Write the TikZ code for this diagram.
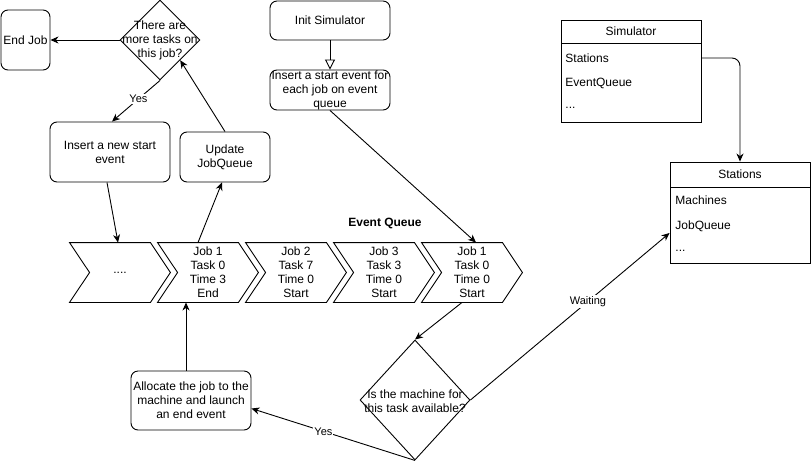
\documentclass[tikz,border=0pt]{standalone}
\usepackage{fontspec}
\setmainfont{Liberation Sans}
\usetikzlibrary{shapes.geometric,arrows.meta}

\begin{document}
\begin{tikzpicture}[x=1pt,y=-1pt,line width=0.9pt,font=\fontsize{12}{14}\selectfont,
    box/.style={draw, rounded corners=7pt, align=center, inner sep=0pt},
    decision/.style={draw, diamond, inner sep=0pt},
    txt/.style={align=center, inner sep=0pt},
    event/.style={minimum width=100pt, minimum height=59pt, inner sep=0pt, align=center},
    classbox/.style={draw, minimum width=140pt, inner sep=0pt},
    field/.style={anchor=west, inner sep=0pt},
    arr/.style={-{Stealth[length=8pt,width=7pt,inset=2.5pt]}},
    lbl/.style={fill=white, inner sep=1pt, font=\fontsize{11}{13}\selectfont}]

\useasboundingbox (0,0) rectangle (811,469);

% job loop
\node[box, minimum width=49pt, minimum height=60pt] (endjob) at (25.5,40) {End Job};
\node[decision, minimum width=80pt, minimum height=80pt] (more) at (160,40) {};
\node[txt] (moretext) at (160,40) {There are\\more tasks on\\this job?};
\node[box, minimum width=120pt, minimum height=60pt] (newstart) at (110,152) {Insert a new start\\event};
\node[box, minimum width=90pt, minimum height=50pt] (update) at (225,157) {Update\\JobQueue};

\node[box, minimum width=120pt, minimum height=39pt] (initsim) at (330,20.5) {Init Simulator};
\node[box, minimum width=120pt, minimum height=40pt] (insstart) at (330,90) {Insert a start event for\\each job on event\\queue};

% event queue
\node[font=\fontsize{12}{14}\selectfont\bfseries] (eqlabel) at (385,223) {Event Queue};
\foreach \i/\t in {1/{....}, 2/{Job 1\\Task 0\\Time 3\\End}, 3/{Job 2\\Task 7\\Time 0\\Start},
                   4/{Job 3\\Task 3\\Time 0\\Start}, 5/{Job 1\\Task 0\\Time 0\\Start}}{
  \node[event] (ev\i) at ({32+88*\i},272.5) {\t};
  \draw (ev\i.north west) -- ([xshift=-20pt]ev\i.north east) -- (ev\i.east)
     -- ([xshift=-20pt]ev\i.south east) -- (ev\i.south west) -- ([xshift=20pt]ev\i.west) -- cycle;
}

\node[decision, minimum width=110pt, minimum height=120pt] (avail) at (415,400) {};
\node[txt] (availtext) at (415,401) {Is the machine for\\this task available?};
\node[box, minimum width=120pt, minimum height=59pt] (alloc) at (191,400.5) {Allocate the job to the\\machine and launch\\an end event};

% classes
\node[classbox, minimum height=23pt] (simhead) at (631,31.5) {Simulator};
\node[classbox, minimum height=79pt] (simbody) at (631,82.5) {};
\node[field] (simst) at (565,58) {Stations};
\node[field] (simeq) at (565,83) {EventQueue};
\node[field] (simdots) at (565,108) {...};

\node[classbox, minimum height=25pt] (stahead) at (740,174.5) {Stations};
\node[classbox, minimum height=76pt] (stabody) at (740,225) {};
\node[field] (stamach) at (675,200) {Machines};
\node[field] (stajq) at (675,226) {JobQueue};
\node[field] (stadots) at (675,251) {...};

% connectors
\draw[arr] (more.west) -- (endjob.east);
\draw[arr] (more.south) -- node[lbl, pos=0.45] (yes1) {Yes} ([xshift=2pt]newstart.north);
\draw[arr] (update.north) -- (more.south east);
\draw[arr] ([xshift=-3pt]newstart.south) -- ([xshift=-2pt]ev1.north);
\draw[arr] ([xshift=-10pt]ev2.north) -- ([xshift=-3pt]update.south);
\draw[-{Triangle[open,length=10pt,width=10pt]}] (initsim.south) -- (insstart.north);
\draw[arr] (insstart.south) -- ([xshift=4pt]ev5.north);
\draw[arr] ([xshift=-10pt]ev5.south) -- (avail.north);
\draw[arr] (avail.south) -- node[lbl, pos=0.56] (yes2) {Yes} ([yshift=-8pt]alloc.east);
\draw[arr] ([xshift=-5pt]alloc.north) -- ([xshift=-5pt]alloc.north |- ev2.south);
\draw[arr] (avail.east) -- node[lbl, pos=0.59] (waiting) {Waiting} ([yshift=-8pt]stabody.west);
\draw[arr, rounded corners=8pt] (simbody.east |- simst) -| (stahead.north);

\end{tikzpicture}
\end{document}
